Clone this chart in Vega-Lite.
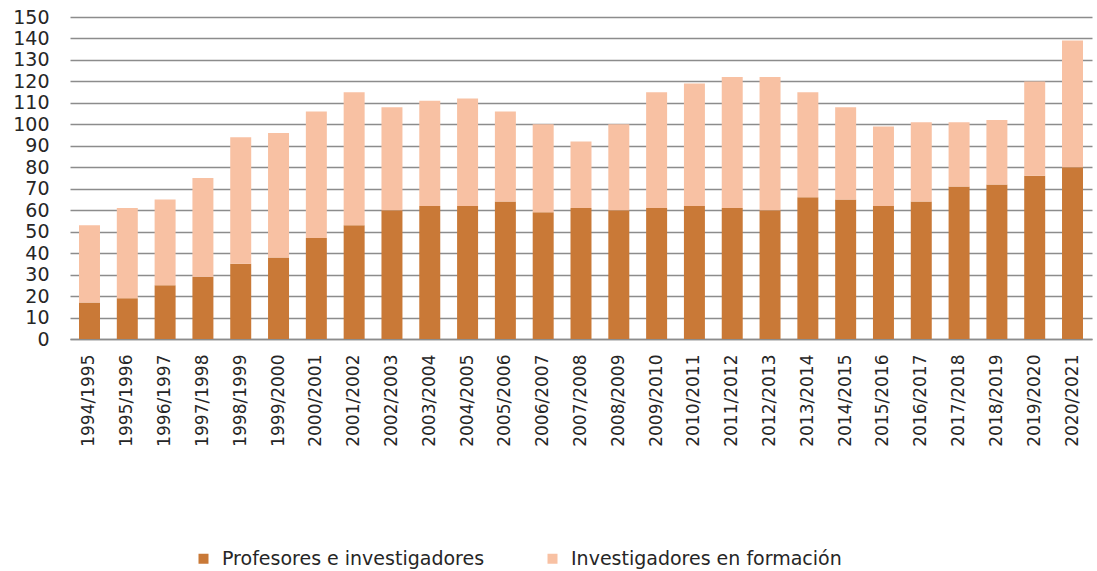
{
  "$schema": "https://vega.github.io/schema/vega-lite/v6.json",
  "width": 1022,
  "height": 322,
  "autosize": "none",
  "padding": {"left": 70, "top": 17, "right": 5, "bottom": 232},
  "background": "white",
  "config": {
    "font": "DejaVu Sans",
    "view": {"stroke": null},
    "axis": {"labelColor": "#262626", "labelFont": "DejaVu Sans"}
  },
  "data": {
    "values": [
      {"curso": "1994/1995", "serie": "Profesores e investigadores", "n": 17},
      {"curso": "1994/1995", "serie": "Investigadores en formación", "n": 36},
      {"curso": "1995/1996", "serie": "Profesores e investigadores", "n": 19},
      {"curso": "1995/1996", "serie": "Investigadores en formación", "n": 42},
      {"curso": "1996/1997", "serie": "Profesores e investigadores", "n": 25},
      {"curso": "1996/1997", "serie": "Investigadores en formación", "n": 40},
      {"curso": "1997/1998", "serie": "Profesores e investigadores", "n": 29},
      {"curso": "1997/1998", "serie": "Investigadores en formación", "n": 46},
      {"curso": "1998/1999", "serie": "Profesores e investigadores", "n": 35},
      {"curso": "1998/1999", "serie": "Investigadores en formación", "n": 59},
      {"curso": "1999/2000", "serie": "Profesores e investigadores", "n": 38},
      {"curso": "1999/2000", "serie": "Investigadores en formación", "n": 58},
      {"curso": "2000/2001", "serie": "Profesores e investigadores", "n": 47},
      {"curso": "2000/2001", "serie": "Investigadores en formación", "n": 59},
      {"curso": "2001/2002", "serie": "Profesores e investigadores", "n": 53},
      {"curso": "2001/2002", "serie": "Investigadores en formación", "n": 62},
      {"curso": "2002/2003", "serie": "Profesores e investigadores", "n": 60},
      {"curso": "2002/2003", "serie": "Investigadores en formación", "n": 48},
      {"curso": "2003/2004", "serie": "Profesores e investigadores", "n": 62},
      {"curso": "2003/2004", "serie": "Investigadores en formación", "n": 49},
      {"curso": "2004/2005", "serie": "Profesores e investigadores", "n": 62},
      {"curso": "2004/2005", "serie": "Investigadores en formación", "n": 50},
      {"curso": "2005/2006", "serie": "Profesores e investigadores", "n": 64},
      {"curso": "2005/2006", "serie": "Investigadores en formación", "n": 42},
      {"curso": "2006/2007", "serie": "Profesores e investigadores", "n": 59},
      {"curso": "2006/2007", "serie": "Investigadores en formación", "n": 41},
      {"curso": "2007/2008", "serie": "Profesores e investigadores", "n": 61},
      {"curso": "2007/2008", "serie": "Investigadores en formación", "n": 31},
      {"curso": "2008/2009", "serie": "Profesores e investigadores", "n": 60},
      {"curso": "2008/2009", "serie": "Investigadores en formación", "n": 40},
      {"curso": "2009/2010", "serie": "Profesores e investigadores", "n": 61},
      {"curso": "2009/2010", "serie": "Investigadores en formación", "n": 54},
      {"curso": "2010/2011", "serie": "Profesores e investigadores", "n": 62},
      {"curso": "2010/2011", "serie": "Investigadores en formación", "n": 57},
      {"curso": "2011/2012", "serie": "Profesores e investigadores", "n": 61},
      {"curso": "2011/2012", "serie": "Investigadores en formación", "n": 61},
      {"curso": "2012/2013", "serie": "Profesores e investigadores", "n": 60},
      {"curso": "2012/2013", "serie": "Investigadores en formación", "n": 62},
      {"curso": "2013/2014", "serie": "Profesores e investigadores", "n": 66},
      {"curso": "2013/2014", "serie": "Investigadores en formación", "n": 49},
      {"curso": "2014/2015", "serie": "Profesores e investigadores", "n": 65},
      {"curso": "2014/2015", "serie": "Investigadores en formación", "n": 43},
      {"curso": "2015/2016", "serie": "Profesores e investigadores", "n": 62},
      {"curso": "2015/2016", "serie": "Investigadores en formación", "n": 37},
      {"curso": "2016/2017", "serie": "Profesores e investigadores", "n": 64},
      {"curso": "2016/2017", "serie": "Investigadores en formación", "n": 37},
      {"curso": "2017/2018", "serie": "Profesores e investigadores", "n": 71},
      {"curso": "2017/2018", "serie": "Investigadores en formación", "n": 30},
      {"curso": "2018/2019", "serie": "Profesores e investigadores", "n": 72},
      {"curso": "2018/2019", "serie": "Investigadores en formación", "n": 30},
      {"curso": "2019/2020", "serie": "Profesores e investigadores", "n": 76},
      {"curso": "2019/2020", "serie": "Investigadores en formación", "n": 44},
      {"curso": "2020/2021", "serie": "Profesores e investigadores", "n": 80},
      {"curso": "2020/2021", "serie": "Investigadores en formación", "n": 59}
    ]
  },
  "mark": {"type": "bar"},
  "encoding": {
    "x": {
      "field": "curso",
      "type": "nominal",
      "sort": null,
      "scale": {"paddingInner": 0.445, "paddingOuter": 0.238},
      "axis": {
        "title": null,
        "labelAngle": -90,
        "labelAlign": "right",
        "labelBaseline": "middle",
        "labelFontSize": 17,
        "ticks": false,
        "labelPadding": 15,
        "domain": true,
        "domainColor": "#8c8c8c",
        "domainWidth": 1.5,
        "grid": false
      }
    },
    "y": {
      "field": "n",
      "type": "quantitative",
      "stack": "zero",
      "scale": {"domain": [0, 150], "nice": false},
      "axis": {
        "title": null,
        "values": [0, 10, 20, 30, 40, 50, 60, 70, 80, 90, 100, 110, 120, 130, 140, 150],
        "labelFontSize": 19,
        "ticks": false,
        "domain": false,
        "labelPadding": 21,
        "grid": true,
        "gridColor": "#8c8c8c",
        "gridWidth": 1.5
      }
    },
    "color": {
      "field": "serie",
      "type": "nominal",
      "sort": ["Profesores e investigadores", "Investigadores en formación"],
      "scale": {
        "domain": ["Profesores e investigadores", "Investigadores en formación"],
        "range": ["#C97937", "#F8C1A3"]
      },
      "legend": {
        "title": null,
        "orient": "none",
        "direction": "horizontal",
        "legendX": 124,
        "legendY": 532,
        "symbolType": "square",
        "symbolSize": 100,
        "symbolStrokeWidth": 0,
        "labelFontSize": 19,
        "labelFont": "DejaVu Sans",
        "labelColor": "#262626",
        "labelOffset": 9,
        "labelLimit": 400,
        "columnPadding": 58
      }
    },
    "order": {"field": "serie", "sort": "descending"}
  }
}
